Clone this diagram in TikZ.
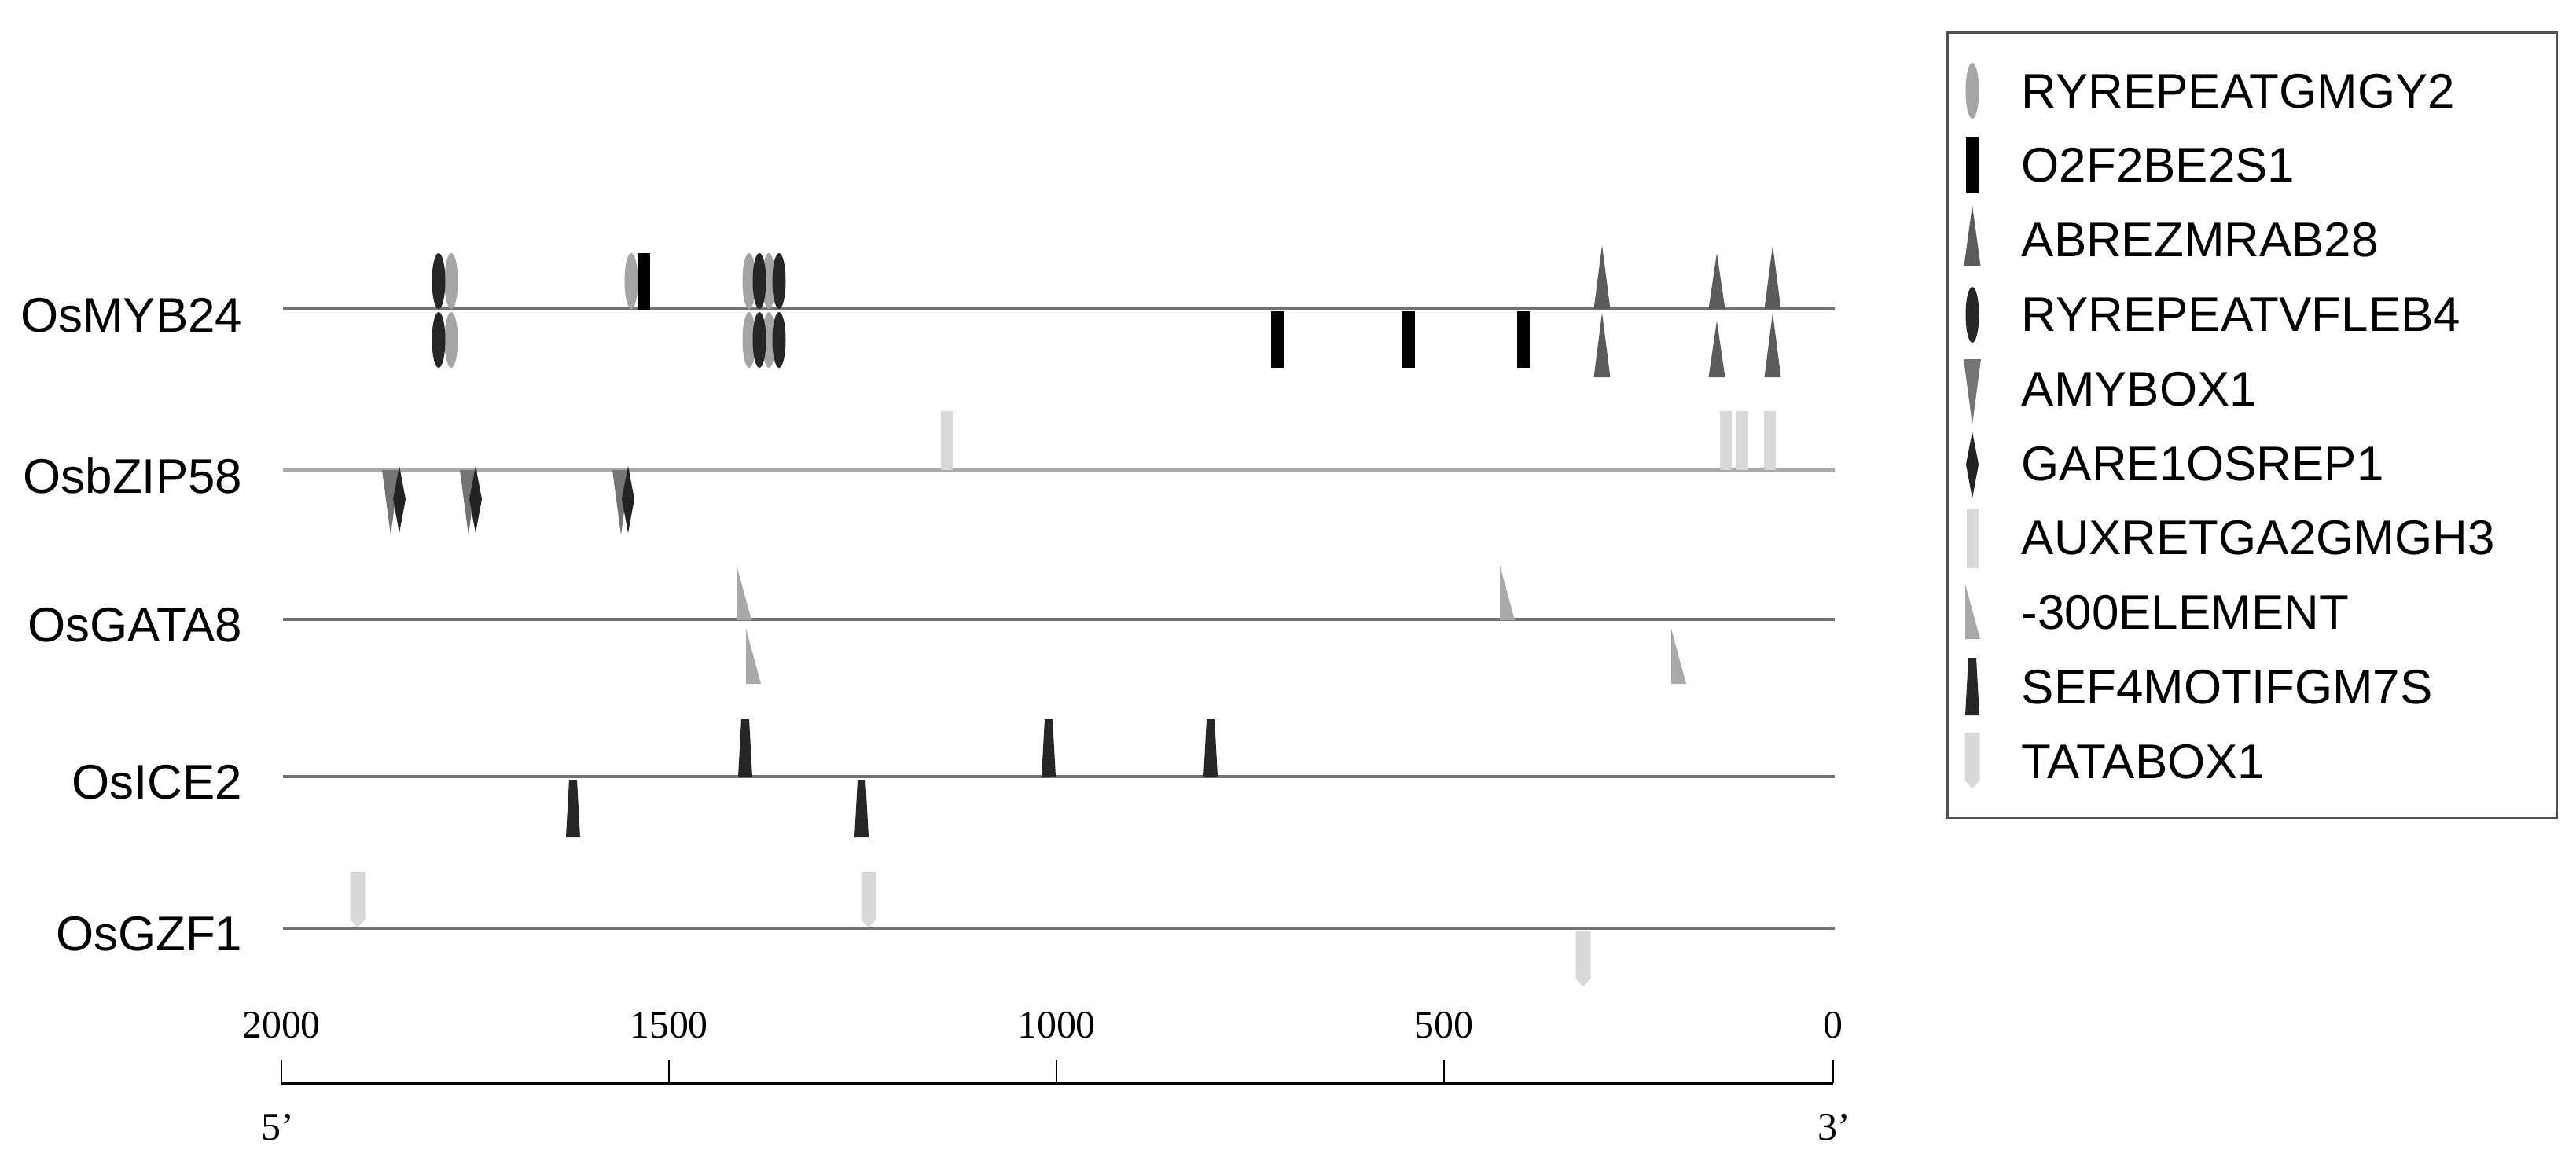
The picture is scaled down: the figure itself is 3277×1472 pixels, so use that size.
\documentclass[tikz,border=0pt]{standalone}
\usepackage{fontspec}
\setmainfont{Liberation Sans}
\newfontfamily\axisfont{Liberation Serif}
\usepackage{tikz}

\definecolor{genegray}{HTML}{727272}
\definecolor{bzipgray}{HTML}{A8A8A8}
\definecolor{rygcol}{HTML}{A5A5A5}
\definecolor{ryvfcol}{HTML}{262626}
\definecolor{abrecol}{HTML}{5B5B5B}
\definecolor{amycol}{HTML}{747474}
\definecolor{garecol}{HTML}{232323}
\definecolor{auxcol}{HTML}{D9D9D9}
\definecolor{elemcol}{HTML}{A9A9A9}
\definecolor{sefcol}{HTML}{262626}
\definecolor{tatacol}{HTML}{D9D9D9}
\definecolor{framegray}{HTML}{505050}

\tikzset{
  geneline/.style={draw=genegray, line width=0.033cm},
  genelabel/.style={anchor=base east, inner sep=0pt, font=\fontsize{17.6}{20}\selectfont},
  legendtext/.style={anchor=base west, inner sep=0pt, font=\fontsize{17.6}{20}\selectfont},
  ticklabel/.style={anchor=base, inner sep=0pt, font=\axisfont\fontsize{14.2}{16}\selectfont},
  % motifs, origin at the top (centre) of each glyph
  pics/rygm/.style={code={\fill[rygcol] (0,35.5) ellipse (0.085cm and 0.355cm);}},
  pics/ryvf/.style={code={\fill[ryvfcol] (0,35.5) ellipse (0.085cm and 0.355cm);}},
  pics/otwo/.style={code={\fill[black] (-8,0) rectangle (8,72);}},
  pics/abre/.style={code={\fill[abrecol] (0,0) -- (10.5,#1) -- (-10.5,#1) -- cycle;}},
  pics/amy/.style={code={\fill[amycol] (-11,0) -- (11,0) -- (0,83) -- cycle;}},
  pics/gare/.style={code={\fill[garecol] (0,0) -- (8,42) -- (0,85) -- (-8,42) -- cycle;}},
  pics/auxre/.style={code={\fill[auxcol] (-7.5,0) rectangle (7.5,75);}},
  pics/elem/.style={code={\fill[elemcol] (0,0) -- (19,70) -- (0,70) -- cycle;}},
  pics/sef/.style={code={\fill[sefcol] (-5,0) -- (5,0) -- (9,73) -- (-9,73) -- cycle;}},
  pics/tata/.style={code={\fill[tatacol] (-9.5,0) -- (9.5,0) -- (9.5,61) -- (0,71) -- (-9.5,61) -- cycle;}},
}

\begin{document}
\begin{tikzpicture}[x=0.01cm, y=-0.01cm]
      \useasboundingbox (0,0) rectangle (3277,1472);

      % gene names
      \node[genelabel] (myb) at (309,422) {OsMYB24};
      \node[genelabel] (bzip) at (309,627) {OsbZIP58};
      \node[genelabel] (gata) at (309,816) {OsGATA8};
      \node[genelabel] (ice) at (309,1016) {OsICE2};
      \node[genelabel] (gzf) at (309,1209) {OsGZF1};

      % promoter lines
      \draw[geneline] (360,393) -- (2334,393);
      \draw[geneline, draw=bzipgray, line width=0.05cm] (360,598) -- (2334,598);
      \draw[geneline] (360,788) -- (2334,788);
      \draw[geneline] (360,988) -- (2334,988);
      \draw[geneline] (360,1181) -- (2334,1181);

      % OsMYB24
      \foreach \x in {574,953,978} {
        \pic at (\x,322) {rygm};
        \pic at (\x,397) {rygm};
      }
      \pic at (803,322) {rygm};
      \foreach \x in {558,966,991} {
        \pic at (\x,322) {ryvf};
        \pic at (\x,397) {ryvf};
      }
      \pic at (819,322) {otwo};
      \foreach \x in {1625,1792,1938}
        \pic at (\x,396) {otwo};
      \pic at (2038,312) {abre=81};
      \pic at (2038,398) {abre=82};
      \pic at (2184,322) {abre=71};
      \pic at (2184,408) {abre=72};
      \pic at (2255,312) {abre=81};
      \pic at (2255,398) {abre=82};

      % OsbZIP58
      \foreach \x in {1204,2195,2216,2251}
        \pic at (\x,523) {auxre};
      \foreach \x in {497,596,790}
        \pic at (\x,598) {amy};
      \foreach \x in {508,605,799}
        \pic at (\x,593) {gare};

      % OsGATA8
      \pic at (937,719) {elem};
      \pic at (1908,719) {elem};
      \pic at (949,800) {elem};
      \pic at (2126,800) {elem};

      % OsICE2
      \foreach \x in {948,1334,1540}
        \pic at (\x,915) {sef};
      \foreach \x in {729,1096}
        \pic at (\x,992) {sef};

      % OsGZF1
      \pic at (455,1109) {tata};
      \pic at (1105,1109) {tata};
      \pic at (2014,1184) {tata};

      % scale bar
      \draw[line width=0.05cm] (358,1378) -- (2332,1378);
      \foreach \x/\t in {358/2000,851/1500,1344/1000,1837/500,2332/0} {
        \draw[line width=0.02cm] (\x,1348) -- (\x,1378);
        \node[ticklabel] (t\t) at (\x,1320) {\t};
      }
      \node[ticklabel] (five) at (353,1450) {5’};
      \node[ticklabel] (three) at (2333,1450) {3’};

      % legend
      \draw[framegray, line width=0.03cm] (2477,41) rectangle (3252,1040);
      \pic at (2509,80) {rygm};
      \pic at (2509,174) {otwo};
      \pic at (2509,261) {abre=77};
      \pic at (2509,365) {ryvf};
      \pic at (2509,457) {amy};
      \pic at (2509,549) {gare};
      \pic at (2509,648) {auxre};
      \pic at (2500,743) {elem};
      \pic at (2509,837) {sef};
      \pic at (2509,932) {tata};
      \foreach \i/\t in {0/RYREPEATGMGY2,1/O2F2BE2S1,2/ABREZMRAB28,3/RYREPEATVFLEB4,
          4/AMYBOX1,5/GARE1OSREP1,6/AUXRETGA2GMGH3,7/-300ELEMENT,8/SEF4MOTIFGM7S,9/TATABOX1}
        \node[legendtext] (lg\i) at (2571,137+94.8*\i) {\t};
\end{tikzpicture}
\end{document}
